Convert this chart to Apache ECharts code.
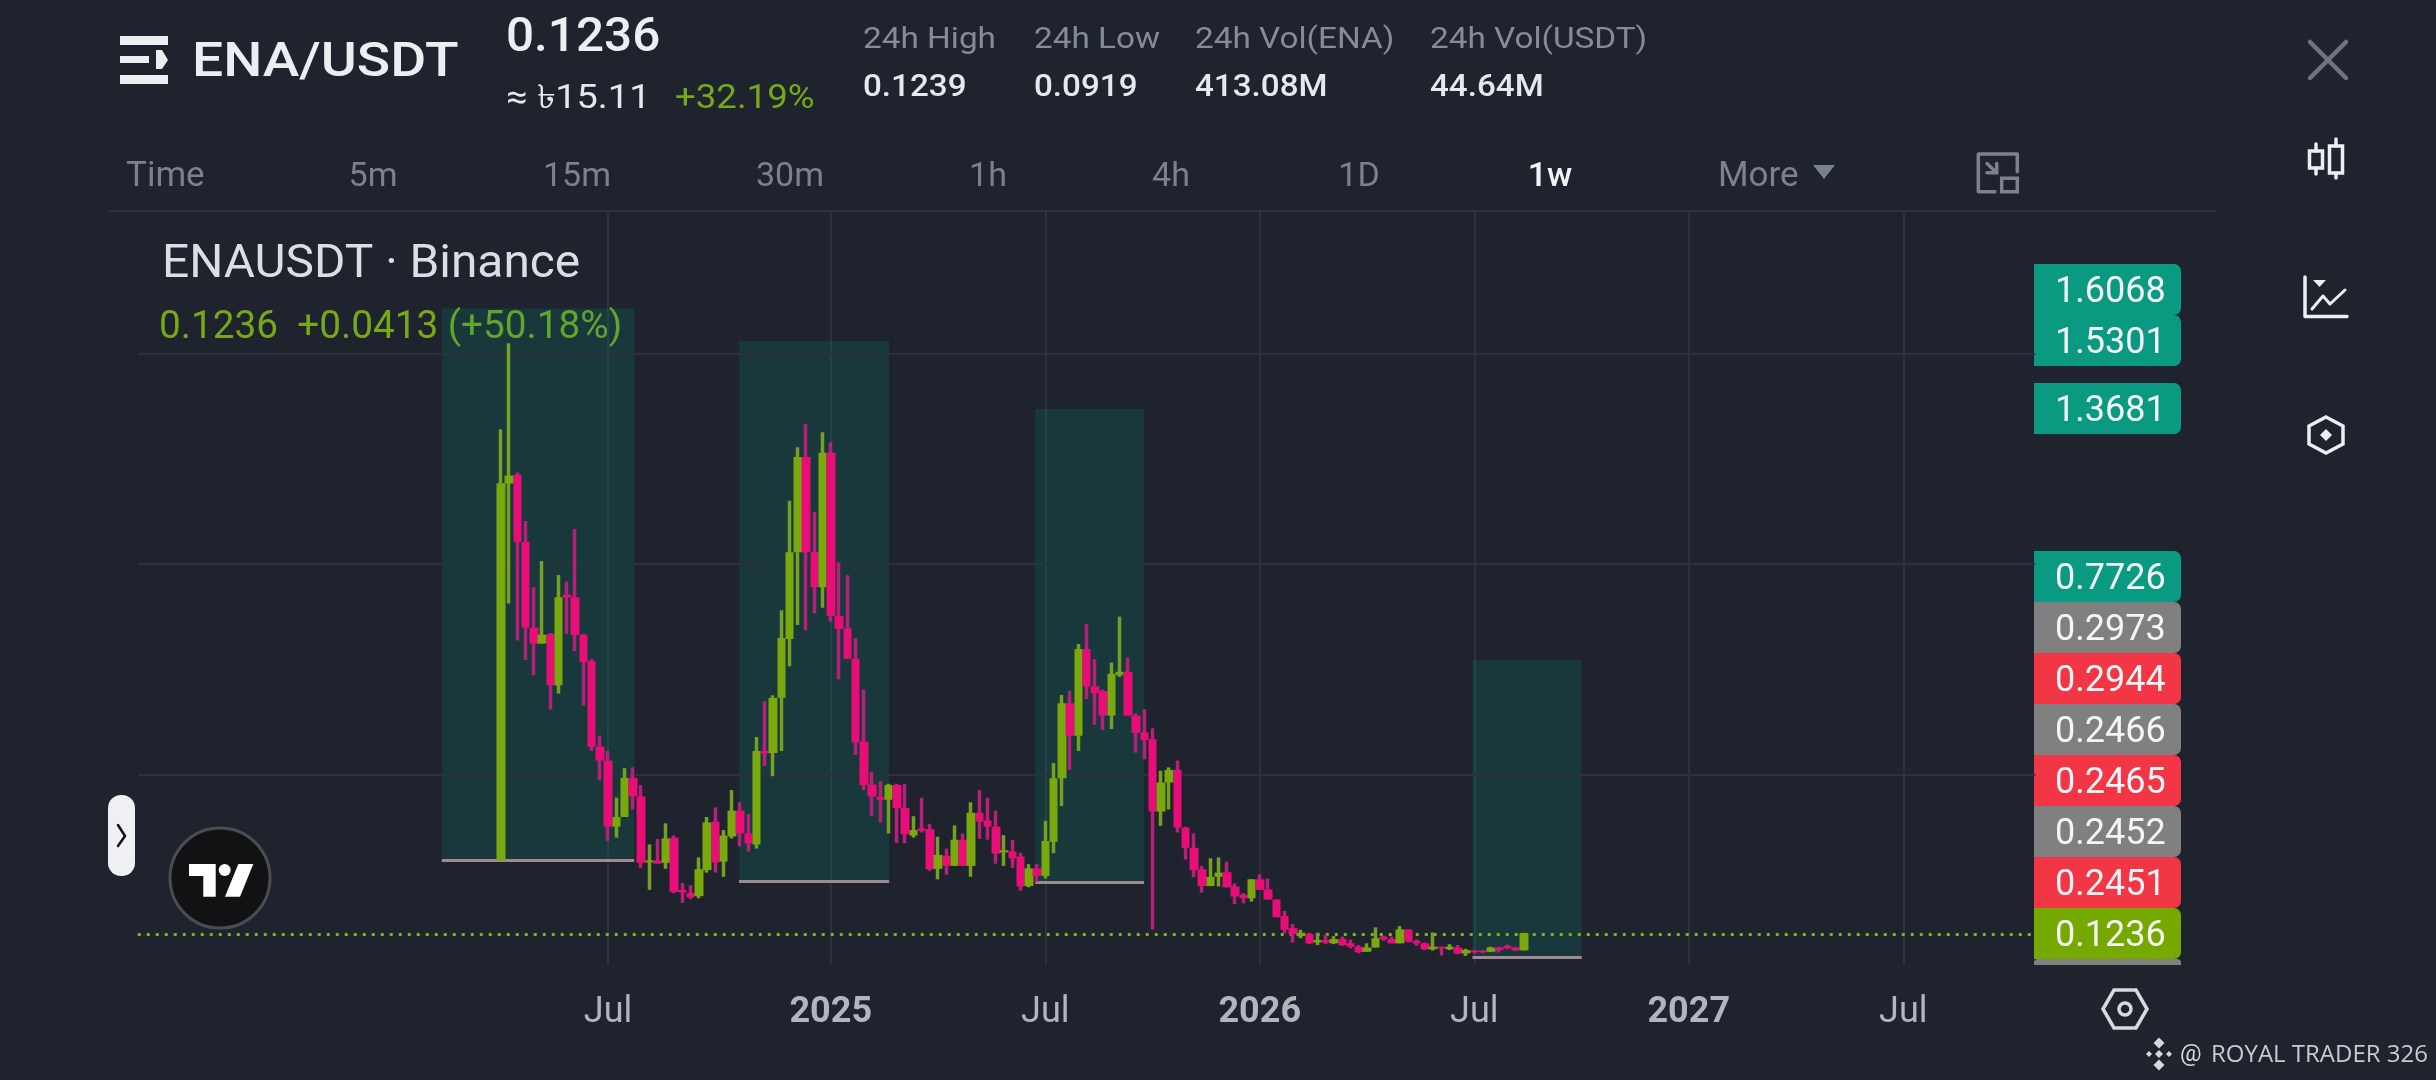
<!DOCTYPE html>
<html><head><meta charset="utf-8">
<style>html,body{margin:0;padding:0;background:#1e232e}#c{width:2436px;height:1080px}</style>
<script src="https://cdn.jsdelivr.net/npm/echarts@6/dist/echarts.min.js"></script>
</head><body><div id="c"></div>
<script>
const opens=[.296,1.191,1.212,1.052,.849,.811,.834,.712,.927,.921,.832,.769,.566,.533,.376,.399,.492,.448,.291,.296,.290,.350,.226,.219,.211,.273,.388,.293,.353,.414,.360,.334,.556,.551,.682,.822,1.028,1.254,1.028,.945,1.264,.877,.847,.775,.578,.476,.447,.440,.475,.420,.355,.372,.370,.276,.307,.283,.345,.283,.409,.391,.376,.315,.317,.305,.235,.277,.259,.340,.491,.669,.592,.798,.709,.698,.640,.736,.744,.640,.600,.584,.412,.481,.511,.374,.326,.275,.235,.257,.268,.234,.214,.206,.251,.227,.203,.164,.135,.116,.121,.101,.107,.099,.109,.099,.091,.079,.089,.115,.109,.099,.132,.105,.099,.085,.091,.085,.089,.075,.082,.082,.079,.089,.093,.089,.0823];
const closes=[1.192,1.210,1.052,.849,.811,.832,.712,.921,.920,.831,.767,.566,.533,.376,.399,.492,.448,.290,.296,.288,.348,.221,.220,.208,.275,.386,.291,.355,.414,.360,.336,.556,.550,.682,.824,1.028,1.254,1.028,.945,1.264,.877,.846,.775,.576,.475,.448,.440,.475,.420,.358,.368,.366,.275,.309,.283,.345,.283,.409,.388,.376,.312,.320,.301,.234,.277,.259,.342,.491,.669,.592,.798,.709,.693,.640,.739,.744,.640,.599,.582,.412,.481,.511,.374,.326,.273,.235,.257,.267,.232,.210,.206,.251,.226,.203,.161,.131,.121,.124,.099,.107,.101,.109,.095,.091,.078,.089,.111,.109,.099,.132,.103,.099,.085,.091,.087,.091,.075,.083,.078,.078,.089,.083,.087,.082,.1236];
const lows=[.296,.906,.818,.772,.736,.811,.654,.692,.834,.793,.664,.556,.486,.342,.350,.399,.417,.278,.226,.288,.276,.218,.195,.204,.206,.267,.267,.257,.348,.329,.317,.324,.520,.496,.556,.757,.855,.842,.883,.896,.863,.726,.774,.546,.463,.401,.386,.360,.337,.337,.350,.362,.271,.251,.262,.283,.283,.257,.347,.345,.288,.283,.278,.224,.232,.245,.253,.313,.425,.511,.556,.679,.618,.606,.608,.732,.640,.552,.536,.132,.378,.417,.362,.298,.256,.219,.235,.234,.232,.192,.194,.198,.226,.203,.161,.123,.101,.111,.097,.095,.097,.097,.093,.087,.075,.079,.089,.105,.099,.099,.101,.093,.083,.082,.070,.083,.073,.069,.075,.076,.078,.077,.085,.081,.0823];
const highs=[1.320,1.524,1.217,1.102,.945,1.007,.836,.974,.958,1.083,.834,.774,.592,.556,.445,.515,.517,.475,.334,.347,.384,.355,.242,.237,.303,.399,.422,.368,.463,.434,.406,.589,.674,.688,.890,1.150,1.277,1.332,1.124,1.313,1.289,1.004,.973,.824,.702,.506,.484,.478,.478,.478,.401,.445,.383,.352,.324,.379,.360,.434,.463,.445,.414,.356,.345,.314,.287,.287,.390,.527,.689,.699,.810,.857,.774,.702,.766,.875,.778,.645,.655,.610,.509,.517,.533,.376,.360,.283,.301,.303,.293,.241,.218,.251,.263,.253,.203,.176,.145,.131,.124,.124,.119,.116,.115,.108,.095,.099,.137,.117,.115,.140,.132,.108,.101,.125,.091,.097,.095,.086,.083,.083,.091,.091,.096,.090,.1239];

const firstCandleWeek='2024-04-01', leadingWeeks=44, totalWeeks=231;
const tickWeeks=['2024-07-01','2025-01-06','2025-07-07','2026-01-05','2026-07-06','2027-01-04','2027-07-05'];
const tickLabels=['Jul','2025','Jul','2026','Jul','2027','Jul'];
const gridValues=[0.5,1,1.5];
const lastPrice=0.1236;
const zoneStartWeeks=[36.86,72.88,108.78,161.78];
const zoneEndWeeks=[60.18,91.08,121.98,175.03];
const zoneTops=[1.6068,1.5301,1.3681,0.7726];
const zoneBottoms=[0.2973,0.2466,0.2452,0.0664];
const priceLabels=['1.6068','1.5301','1.3681','0.7726','0.2973','0.2944','0.2466','0.2465','0.2452','0.2451','0.1236'];
const priceColors=['#0a9a82','#0a9a82','#0a9a82','#0a9a82','#808080','#f23645','#808080','#f23645','#808080','#f23645','#76a900'];
const priceBoxTops=[264,315,383,551,602,653,704,755,806,857,908];
const statNames=['24h High','24h Low','24h Vol(ENA)','24h Vol(USDT)'];
const statValues=['0.1239','0.0919','413.08M','44.64M'];
const statX=[864,1035,1196,1431];
const tabs=['5m','15m','30m','1h','4h','1D','1w'];
const tabX=[373,577,790,988,1171,1359,1550];

const UP='#79a90c',DOWN='#e90d78',UPW='#74a024',DOWNW='#b5207a',GRID='#2c313c',FONT='Roboto, "Noto Sans", "DejaVu Sans", sans-serif';

const weeks=[];
{const t0=Date.parse(firstCandleWeek+'T00:00:00Z');
 for(let i=-leadingWeeks;i<totalWeeks-leadingWeeks;i++) weeks.push(new Date(t0+i*7*864e5).toISOString().slice(0,10));}
const candleWeeks=weeks.slice(leadingWeeks,leadingWeeks+opens.length);
const wickData=candleWeeks.map((w,i)=>[w,opens[i],closes[i],lows[i],highs[i]]);
const bodyData=candleWeeks.map((w,i)=>[w,opens[i],closes[i],Math.min(opens[i],closes[i]),Math.max(opens[i],closes[i])]);
const isTick=(idx,val)=>tickWeeks.includes(val);

const g=[];
const T=(x,y,text,size,fill,weight,align,sx)=>g.push({type:'text',x,y,scaleX:sx||1,silent:true,style:{text,fill,font:`${weight||400} ${size}px ${FONT}`,align:align||'left',verticalAlign:'middle'}});
const L=(pts,stroke,w)=>g.push({type:'polyline',silent:true,shape:{points:pts},style:{stroke,lineWidth:w,fill:null,lineCap:'round',lineJoin:'round'}});
const P=(pts,fill,stroke,w)=>g.push({type:'polygon',silent:true,shape:{points:pts},style:{fill:fill||null,stroke:stroke||null,lineWidth:w||0}});
const R=(x,y,w,h,fill,r,stroke,lw)=>g.push({type:'rect',silent:true,shape:{x,y,width:w,height:h,r:r||0},style:{fill:fill||null,stroke:stroke||null,lineWidth:lw||0}});
const C=(cx,cy,r,fill,stroke,lw)=>g.push({type:'circle',silent:true,shape:{cx,cy,r},style:{fill:fill||null,stroke:stroke||null,lineWidth:lw||0}});

// header
R(120,36,48,9,'#eceef2');R(120,56,29,7,'#eceef2');R(120,75,48,9,'#eceef2');
P([[156,50],[162,50],[168,60],[162,69],[156,69]],'#eceef2');
T(192,64,'ENA/USDT',49,'#eceef2',500,'left',1.125);
T(506,39,'0.1236',48,'#eceef2',500,'left',1.03);
T(506,100,'≈ ৳15.11',33,'#e6e8ec',400,'left',1.15);
T(675,100,'+32.19%',33,'#76a91a',400,'left',1.11);
statNames.forEach((s,i)=>{T(statX[i]-1,40,s,30,'#868c96',400,'left',1.11);T(statX[i]-1,88,statValues[i],31,'#e6e8ec',500,'left',1.07);});
// tabs
T(126,177,'Time',35,'#7c828d');
tabs.forEach((s,i)=>T(tabX[i],177,s,34,i==6?'#f2f3f5':'#7c828d',i==6?500:400,'center'));
T(1718,177,'More',35,'#7c828d');
P([[1813,165],[1835,165],[1824,179]],'#7c828d');
L([[1995,191.7],[1978.3,191.7],[1978.3,154],[2017.3,154],[2017.3,171.7]],'#7c828d',3.5);
R(2001.7,178.3,15.6,13.4,null,0,'#7c828d',3.5);
L([[1987,163.5],[1996.7,172.7]],'#7c828d',3.5);L([[1987,172.7],[1996.7,172.7],[1996.7,163.5]],'#7c828d',3.5);
g.push({type:'line',silent:true,shape:{x1:108,y1:211,x2:2217,y2:211},style:{stroke:'#2b303a',lineWidth:2}});
// legend
T(162,265,'ENAUSDT · Binance',46,'#dcdee3',400,'left',1.04);
T(159,328,'0.1236  +0.0413 (+50.18%)',39,'#76a91a',400,'left',0.993);
// price boxes
R(2034,959,147,6,'#808080',[4,4,0,0]);
priceLabels.forEach((s,i)=>{R(2034,priceBoxTops[i],147,51,priceColors[i],[0,7,7,0]);T(2055,priceBoxTops[i]+29,s,36,'#f4f5f7');});
// left handle + logo
R(108,795,27,81,'#eef0f3',13);
L([[118,825],[125,836],[118,846]],'#111',2.5);
C(220,878,50,'#111214','#4b4d52',3);
P([[189,864],[215.7,864],[215.7,896.7],[203.3,896.7],[203.3,876],[189,876]],'#fff');
C(224.7,870,6,'#fff');
P([[238.3,864],[253.3,864],[240,896.7],[225,896.7]],'#fff');
// right icons
L([[2310,42],[2346,78]],'#6e7480',4.5);L([[2346,42],[2310,78]],'#6e7480',4.5);
R(2309.5,151,13,17,null,0,'#eceef2',3.5);L([[2316,144],[2316,151]],'#eceef2',3.5);L([[2316,168],[2316,174]],'#eceef2',3.5);
R(2329.5,146,13,27,null,0,'#eceef2',3.5);L([[2336,139],[2336,146]],'#eceef2',3.5);L([[2336,173],[2336,178]],'#eceef2',3.5);
L([[2305,277],[2305,316.5],[2347,316.5]],'#eceef2',3.5);
L([[2312,309],[2323,296],[2330,304],[2345,290]],'#eceef2',3);
P([[2313,280],[2326,280],[2319.5,287]],'#eceef2');
P([[2326,417],[2343,426],[2343,444],[2326,453],[2309,444],[2309,426]],null,'#eceef2',3.5);
P([[2326,429],[2332,435],[2326,441],[2320,435]],'#eceef2');
P([[2103,1009],[2114,990],[2136,990],[2147,1009],[2136,1028],[2114,1028]],null,'#d8d9de',3.5);
C(2125,1009,6,null,'#d8d9de',3.5);
// watermark
[[2159,1043,5.5],[2159,1065,5.5],[2149,1054,3],[2169,1054,3]].forEach(d=>P([[d[0],d[1]-d[2]],[d[0]+d[2],d[1]],[d[0],d[1]+d[2]],[d[0]-d[2],d[1]]],'#d5d7db'));
P([[2159,1050],[2163,1054],[2159,1058],[2155,1054]],'#d5d7db');
T(2180,1055,'@',24,'#d5d7db',400);
g.push({type:'text',x:2211,y:1055,silent:true,style:{text:'ROYAL TRADER 326',fill:'#c8cacf',font:'400 24px "Open Sans", sans-serif',align:'left',verticalAlign:'middle'}});

const chart=echarts.init(document.getElementById('c'),null,{width:2436,height:1080});
chart.setOption({
 animation:false,backgroundColor:'#1e232e',
 grid:{left:137.75,right:400.75,top:212,bottom:115,containLabel:false},
 xAxis:[{type:'category',data:weeks,boundaryGap:false,
  axisLine:{show:false},axisTick:{show:false},
  axisLabel:{interval:isTick,margin:30,hideOverlap:false,
   formatter:v=>{const i=tickWeeks.indexOf(v);if(i<0)return '';const s=tickLabels[i];return s==='Jul'?`{m|${s}}`:`{y|${s}}`;},
   rich:{m:{fontFamily:'Roboto',fontSize:36,color:'#b2b5be'},y:{fontFamily:'Roboto',fontSize:36,fontWeight:700,color:'#b2b5be'}}},
  splitLine:{show:true,interval:isTick,lineStyle:{color:GRID,width:2}}},
  {type:'value',min:0,max:totalWeeks-1,show:false}],
 yAxis:{type:'value',min:0.0475,max:1.836,axisLine:{show:false},axisTick:{show:false},axisLabel:{show:false},splitLine:{show:false}},
 series:[
  {type:'line',xAxisIndex:1,data:[],z:1,silent:true,
   markArea:{z:1,silent:true,itemStyle:{color:'rgba(8,153,129,0.18)'},data:zoneStartWeeks.map((s,i)=>[{coord:[s,zoneTops[i]]},{coord:[zoneEndWeeks[i],zoneBottoms[i]]}])},
   markLine:{z:1,silent:true,symbol:'none',label:{show:false},lineStyle:{color:GRID,width:2,type:'solid'},
    data:gridValues.map(v=>({yAxis:v})).concat([{yAxis:lastPrice,lineStyle:{color:'#84ad20',width:3,type:[3,6]}}])}},
  {type:'line',xAxisIndex:1,data:[],z:2,silent:true,
   markLine:{z:2,silent:true,symbol:'none',label:{show:false},lineStyle:{color:'#a08a92',width:3,type:'solid'},
    data:zoneStartWeeks.map((s,i)=>[{coord:[s,zoneBottoms[i]]},{coord:[zoneEndWeeks[i],zoneBottoms[i]]}])}},
  {type:'candlestick',z:3,silent:true,barWidth:1,data:wickData,encode:{x:0,y:[1,2,3,4]},
   itemStyle:{color:UPW,color0:DOWNW,borderColor:UPW,borderColor0:DOWNW,borderColorDoji:DOWNW,borderWidth:3.5}},
  {type:'candlestick',z:4,silent:true,barWidth:9,data:bodyData,encode:{x:0,y:[1,2,3,4]},
   itemStyle:{color:UP,color0:DOWN,borderColor:UP,borderColor0:DOWN,borderColorDoji:DOWN,borderWidth:0}}
 ],
 graphic:{elements:g}
});
</script></body></html>
